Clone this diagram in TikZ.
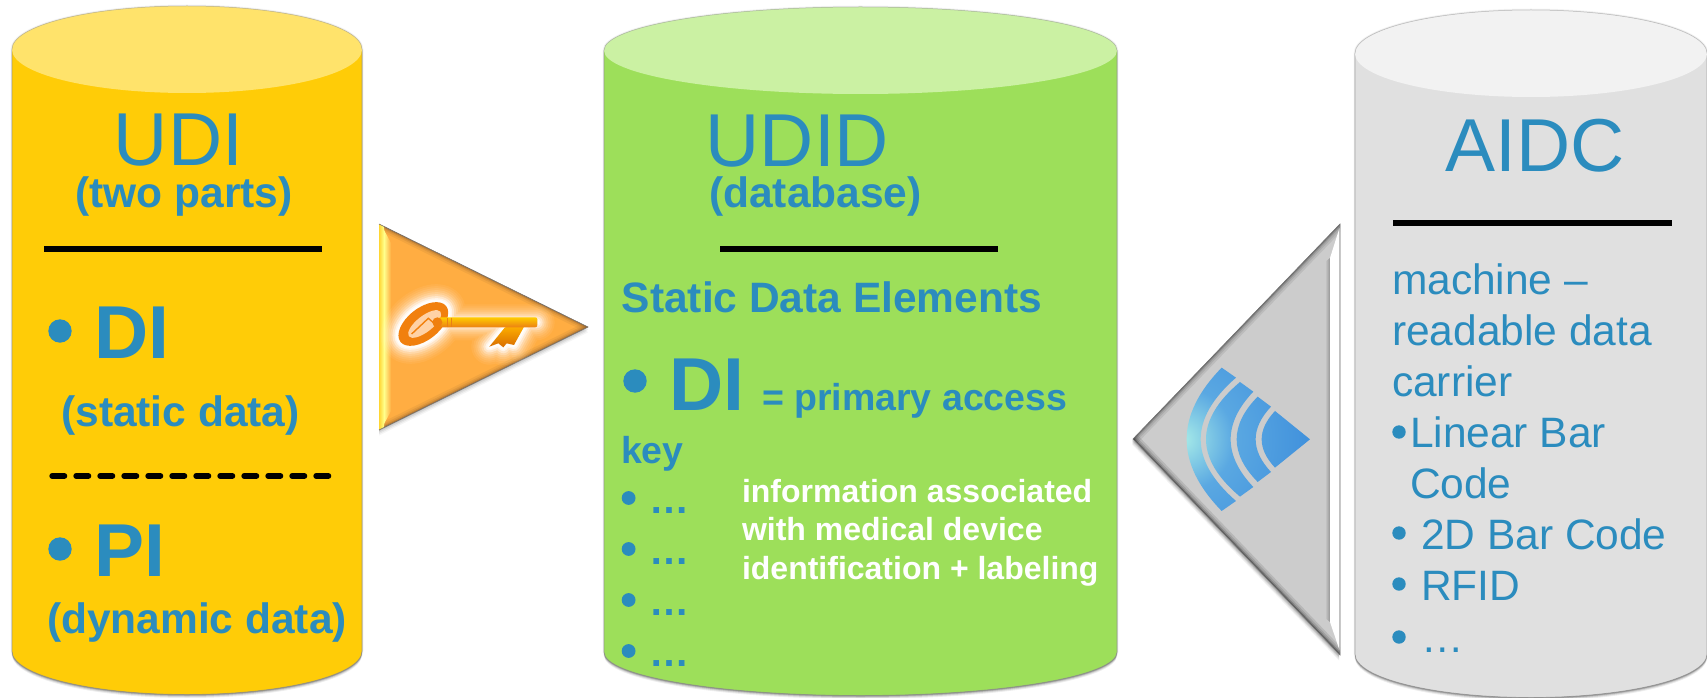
\documentclass[tikz,border=0pt]{standalone}
\usepackage{fontspec}
\setmainfont{Liberation Sans}
\definecolor{bluetxt}{HTML}{2B8CBE}
\definecolor{ybody}{HTML}{FFCC07}
\definecolor{ytop}{HTML}{FFE36B}
\definecolor{gbody}{HTML}{9DDF5A}
\definecolor{gtop}{HTML}{CBF1A3}
\definecolor{sbody}{HTML}{E0E0E0}
\definecolor{stop}{HTML}{F2F2F2}
\definecolor{okey}{HTML}{FFAD42}
\definecolor{wa}{HTML}{A8ECE8}
\definecolor{wb}{HTML}{5AA8E2}
\definecolor{wc}{HTML}{4292DC}
\definecolor{wd}{HTML}{1E78C8}
\pgfdeclareradialshading{wifi}{\pgfpoint{0bp}{0bp}}{color(0bp)=(wa); color(10bp)=(wb); color(24bp)=(wc); color(50bp)=(wd)}
\tikzset{
  lbl/.style={inner sep=0pt,outer sep=0pt,text=bluetxt},
  bigtitle/.style={lbl,anchor=base,font=\fontsize{75}{80}\selectfont},
  subtitle/.style={lbl,anchor=base,font=\fontsize{42.5}{46}\selectfont\bfseries},
  bigcode/.style={lbl,anchor=base west,font=\fontsize{75}{80}\selectfont\bfseries},
  midtext/.style={lbl,anchor=base west,font=\fontsize{37.5}{40}\selectfont\bfseries},
  dots/.style={lbl,anchor=base,font=\fontsize{40}{42}\selectfont\bfseries},
  plain/.style={lbl,font=\fontsize{42.5}{51}\selectfont},
  whitetext/.style={inner sep=0pt,outer sep=0pt,text=white,anchor=north west,align=left,font=\fontsize{32}{38.5}\selectfont\bfseries},
  rule/.style={draw=black,line width=6pt},
  bulletdot/.style={fill=bluetxt,draw=none},
}
\newcommand{\cylinderdraw}[7]{%
  \def\cylbody{(#1,#3) -- (#1,#5) arc[start angle=180,end angle=360,x radius={(#2-#1)/2*1pt},y radius=#4pt] -- (#2,#3) arc[start angle=0,end angle=180,x radius={(#2-#1)/2*1pt},y radius=#4pt] -- cycle}%
  \foreach \sh/\op in {0.5/.16,1.5/.14,2.5/.10,3.5/.07}{
    \fill[black,opacity=\op,yshift=-\sh pt] \cylbody;
  }
  \foreach \sh/\op in {3/.03,2/.04,1/.05}{
    \draw[black,opacity=\op,line width=\sh pt] \cylbody;
  }
  \fill[#6] \cylbody;
  \draw[black!45,line width=.7pt,opacity=.7] (#1,#3) -- (#1,#5) arc[start angle=180,end angle=360,x radius={(#2-#1)/2*1pt},y radius=#4pt] -- (#2,#3);
  \fill[#7] ({(#1+#2)/2},#3) ellipse[x radius={(#2-#1)/2*1pt},y radius=#4pt];
  \draw[black!35,line width=.5pt,opacity=.7] (#1,#3) arc[start angle=180,end angle=0,x radius={(#2-#1)/2*1pt},y radius=#4pt];
}
\newcommand{\wband}[6]{% outer end x,y, outer mid x, inner end x,y, inner mid x
  (#1,#2) .. controls ({#1+4/3*(#3-#1)},{#2+2/3*(688-#2)}) and ({#1+4/3*(#3-#1)},{1376-#2-2/3*(688-#2)}) .. (#1,{1376-#2})
  -- (#4,{1376-#5}) .. controls ({#4+4/3*(#6-#4)},{1376-#5-2/3*(688-#5)}) and ({#4+4/3*(#6-#4)},{#5+2/3*(688-#5)}) .. (#4,#5) -- cycle
}
\begin{document}
\begin{tikzpicture}[x=1pt,y=-1pt]
\useasboundingbox (0,0) rectangle (1707,698);
\fill[white] (0,0) rectangle (1707,698);

% cylinders
\cylinderdraw{12}{362}{49.5}{43.5}{651}{ybody}{ytop}
\cylinderdraw{604}{1117}{50.5}{43.5}{652}{gbody}{gtop}
\cylinderdraw{1355}{1707}{53.5}{43.5}{654}{sbody}{stop}

% left cylinder text
\node[bigtitle] (udi) at (178.5,165) {UDI};
\node[subtitle] (twoparts) at (184,207) {(two parts)};
\coordinate (r1a) at (44,249); \coordinate (r1b) at (322,249);
\draw[rule] (r1a) -- (r1b);
\fill[bulletdot] (60,331) circle (11.7);
\node[bigcode] (di1) at (94.5,358) {DI};
\node[subtitle] (static) at (180.5,426) {(static data)};
\coordinate (r2a) at (52.3,476); \coordinate (r2b) at (328.7,476);
\draw[draw=black,line width=6pt,line cap=round,dash pattern=on 12pt off 12pt] (r2a) -- (r2b);
\fill[bulletdot] (60,549) circle (11.7);
\node[bigcode] (pi1) at (94.5,576) {PI};
\node[subtitle] (dynamic) at (197,633) {(dynamic data)};

% middle cylinder text
\node[bigtitle] (udid) at (797.5,166) {UDID};
\node[subtitle] (database) at (815.5,207) {(database)};
\coordinate (r3a) at (720,249); \coordinate (r3b) at (998,249);
\draw[rule] (r3a) -- (r3b);
\node[subtitle] (sde) at (832,312) {Static Data Elements};
\fill[bulletdot] (635,381) circle (11.7);
\node[bigcode] (di2) at (669,410) {DI};
\node[midtext] (prim) at (762,410) {= primary access};
\node[midtext] (keyw) at (621,463) {key};
\foreach \yy/\nm in {498/a,549/b,600/c,651/d}{
  \fill[bulletdot] (628.6,\yy) circle (6.9);
  \node[dots] (dot\nm) at (669,\yy+15) {…};
}
\node[whitetext] (info) at (742,479) {information associated\\with medical device\\identification + labeling};

% right cylinder text
\node[bigtitle] (aidc) at (1535,171) {AIDC};
\coordinate (r4a) at (1393,223); \coordinate (r4b) at (1672,223);
\draw[rule] (r4a) -- (r4b);
\node[plain,anchor=north west,align=left] (mach) at (1392,263.5) {machine –\\readable data\\carrier};
\fill[bulletdot] (1399,432) circle (6.7);
\node[plain,anchor=north west,align=left] (lin) at (1410,417) {Linear Bar\\Code};
\fill[bulletdot] (1399,533) circle (6.7);
\node[plain,anchor=base west] (twod) at (1421,549) {2D Bar Code};
\fill[bulletdot] (1399,584) circle (6.7);
\node[plain,anchor=base west] (rfid) at (1421,600) {RFID};
\fill[bulletdot] (1399,637) circle (6.7);
\node[plain,anchor=base west] (more) at (1421,652) {…};

% key triangle
\foreach \sh/\op in {1/.10,2.5/.08,4/.06,5.5/.04}{
  \fill[black,opacity=\op,yshift=-\sh pt] (379,224) -- (588,327) -- (379,430) -- cycle;
}
\fill[okey] (379,224) -- (588,327) -- (379,430) -- cycle;
\begin{scope}
  \clip (379,224) -- (588,327) -- (379,430) -- cycle;
  \foreach \w/\op in {11/.10,7/.15,4/.25,1.8/.45}{
    \draw[black!30!brown,line width=\w pt,opacity=\op] (379,224) -- (588,327);
    \draw[black!30!brown,line width=\w pt,opacity=\op] (588,327) -- (379,430);
  }
  \shade[left color=yellow!60!orange!80!white,right color=yellow!45!white] (379,224) rectangle (384,430);
  \shade[left color=yellow!45!white,right color=okey] (384,230) -- (391,243) -- (391,411) -- (384,424) -- cycle;
\end{scope}
\draw[black!55,line width=.6pt] (379,224) -- (588,327) -- (379,430);
% the key
\begin{scope}[shift={(360,210)},x=.3333pt,y=-.3333pt]
  \foreach \w/\op in {36/.06,32/.07,28/.09,24/.12,20/.16,16/.24,12/.4,8/.6,5/.8}{
    \draw[white,opacity=\op,line width=\w pt,line join=round,line cap=round]
      (190,342) ellipse[x radius=29pt,y radius=16pt,rotate=38]
      (240,337) -- (530,337)
      (435,352) -- (495,345) -- (462,405) -- (440,400) -- (430,412) -- (415,400) -- (388,410) -- cycle;
  }
  \fill[white,opacity=.9] (190,342) ellipse[x radius=29pt,y radius=16pt,rotate=38];
  \shade[top color=orange!60!yellow,bottom color=orange!85!black] (435,352) -- (495,345) -- (462,405) -- (440,400) -- (430,412) -- (415,400) -- (388,410) -- cycle;
  \fill[orange!78!brown] (190,342) ellipse[x radius=29pt,y radius=16pt,rotate=38];
  \fill[orange!35!white] (194,342) ellipse[x radius=20pt,y radius=8pt,rotate=38];
  \draw[orange!80!brown,line width=1.4pt] (155,372) -- (205,325) -- (232,348);
  \shade[top color=yellow!60!orange,bottom color=orange!70!brown,rounded corners=2pt] (235,322) rectangle (532,352);
  \fill[orange!75!brown] (232,337) circle (5pt);
  \draw[orange!65!brown,line width=1pt] (262,323) -- (262,352) (275,323) -- (275,352);
\end{scope}

% signal triangle
\foreach \sh/\op in {1/.12,2.5/.10,4/.07,5.5/.05}{
  \fill[black,opacity=\op,xshift=-1pt,yshift=-\sh pt] (1133,439) -- (1340,224) -- (1340,655) -- cycle;
}
\fill[black!20] (1133,439) -- (1340,224) -- (1340,655) -- cycle;
\begin{scope}
  \clip (1133,439) -- (1340,224) -- (1340,655) -- cycle;
  \foreach \w/\op in {12/.12,8/.15,4.5/.25,2/.45}{
    \draw[black!70,line width=\w pt,opacity=\op] (1133,439) -- (1340,224);
    \draw[black!85,line width=\w pt,opacity=\op] (1133,439) -- (1340,655);
  }
  \shade[left color=black!20,right color=black!42] (1325,262) -- (1330,258) -- (1330,622) -- (1325,618) -- cycle;
  \fill[white] (1330,258) -- (1339.5,228) -- (1339.5,650) -- (1330,622) -- cycle;
\end{scope}
\draw[black!55,line width=.6pt] (1133,439) -- (1340,224) -- (1340,655) -- cycle;
% signal icon
\begin{scope}[shift={(1110,210)},x=.3333pt,y=-.3333pt]
  \begin{scope}
    \clip \wband{335}{473}{230}{378}{503}{272}
          \wband{390}{516}{288}{430}{545}{362}
          \wband{443}{560}{380}{483}{590}{437}
          (495,603) .. controls ({495+4/3*(455-495)},{603+2/3*85}) and ({495+4/3*(455-495)},{773-2/3*85}) .. (495,773) -- (600,688) -- cycle;
    \shade[shading=wifi] (215,688) circle (130pt);
  \end{scope}
\end{scope}
\end{tikzpicture}
\end{document}
